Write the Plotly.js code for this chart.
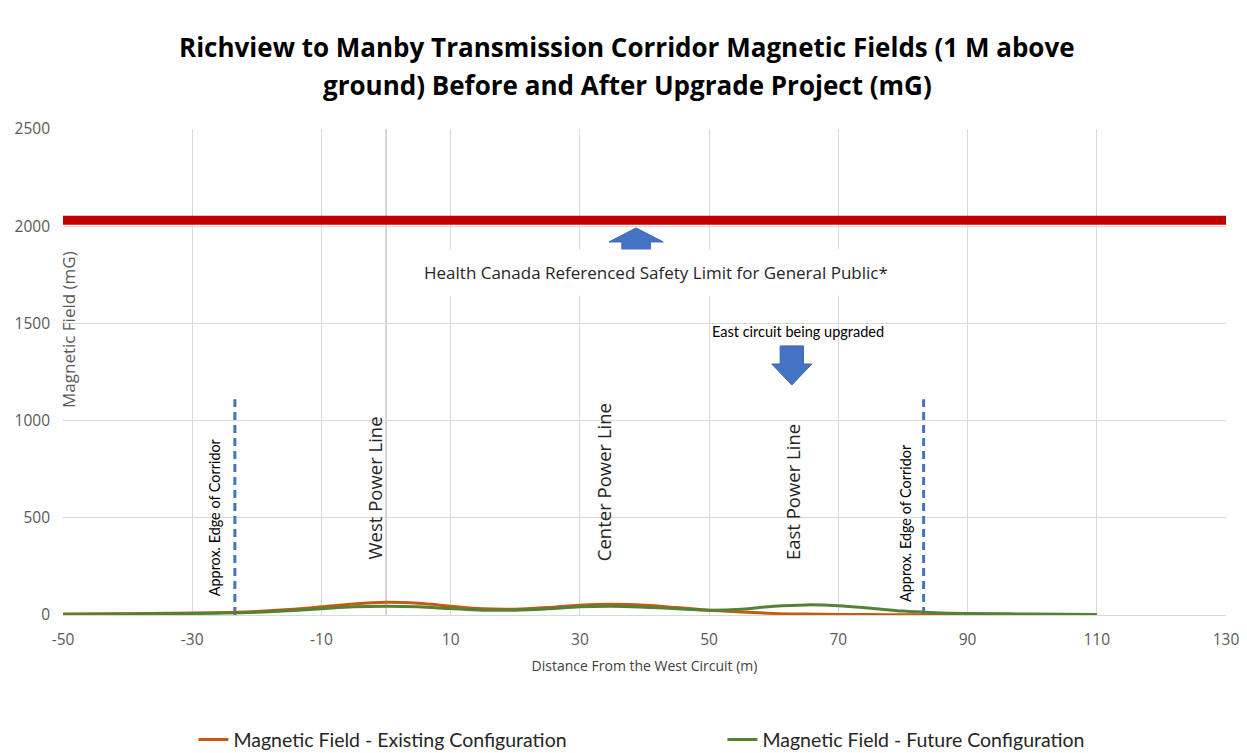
<!DOCTYPE html>
<html>
<head>
<meta charset="utf-8">
<script src="https://cdn.plot.ly/plotly-3.0.1.min.js"></script>
<style>
html,body{margin:0;padding:0;background:#fff;}
#chart{width:1247px;height:753px;}
</style>
</head>
<body>
<div id="chart"></div>
<script>
// Distance from the West Circuit (m)
const distance = [-50, -40, -30, -25, -20, -15, -10, -5, 0, 5, 10, 15, 20, 25, 30, 35, 40, 45, 50, 55, 60, 65, 70, 75, 80, 85, 90, 100, 110];
// Magnetic field (mG), existing configuration
const existingField = [5, 7, 10, 13, 18, 28, 42, 57, 65, 60, 45, 32, 30, 38, 50, 55, 50, 38, 25, 15, 8, 5, 3, 2, 1, 1, 0.5, 0, 0];
// Magnetic field (mG), future configuration
const futureField = [3, 5, 8, 10, 14, 22, 32, 42, 45, 42, 33, 25, 25, 32, 42, 45, 40, 32, 25, 30, 45, 52, 48, 35, 20, 12, 8, 5, 2];

// Health Canada referenced safety limit line
const limitX = [-50, 130];
const limitY = [2030, 2030];

// Approximate edges of the corridor
const edgeX = [-23.4, 83.2];
const edgeTop = 1110;

// Axis ticks
const xTickVals = [-50, -30, -10, 10, 30, 50, 70, 90, 110, 130];
const xTickText = ["-50", "-30", "-10", "10", "30", "50", "70", "90", "110", "130"];
const yTickVals = [0, 500, 1000, 1500, 2000, 2500];

// Power line labels
const lineLabels = ["West Power Line", "Center Power Line", "East Power Line"];
const lineLabelX = [-1.8, 33.6, 63.0];
const lineLabelY = [653, 684, 633];

const titleLines = [
  "Richview to Manby Transmission Corridor Magnetic Fields (1 M above",
  "ground) Before and After Upgrade Project (mG)"
];
const seriesNames = ["Magnetic Field - Existing Configuration", "Magnetic Field - Future Configuration"];

const traces = [
  {
    x: limitX, y: limitY, mode: "lines", showlegend: false, hoverinfo: "skip",
    line: {color: "#C00000", width: 9}
  },
  {
    x: [edgeX[0], edgeX[0]], y: [0, edgeTop], mode: "lines", showlegend: false, hoverinfo: "skip",
    line: {color: "#4472C4", width: 3, dash: "8px,5px"}
  },
  {
    x: [edgeX[1], edgeX[1]], y: [0, edgeTop], mode: "lines", showlegend: false, hoverinfo: "skip",
    line: {color: "#4472C4", width: 3, dash: "8px,5px"}
  },
  {
    x: distance, y: existingField, name: seriesNames[0], mode: "lines",
    line: {color: "#C55A11", width: 3, shape: "spline", smoothing: 1}
  },
  {
    x: distance, y: futureField, name: seriesNames[1], mode: "lines",
    line: {color: "#548235", width: 3, shape: "spline", smoothing: 1}
  }
];

const rotFont = {family: "Open Sans, sans-serif", size: 18.5, color: "#262626"};
const titleFont = {family: "Open Sans, sans-serif", size: 26, color: "#000000"};
const annotations = [
  {
    xref: "paper", yref: "paper", x: 0.485, y: 1.1687, yanchor: "middle", text: "<b>" + titleLines[0] + "</b>",
    showarrow: false, font: titleFont
  },
  {
    xref: "paper", yref: "paper", x: 0.485, y: 1.0905, yanchor: "middle", text: "<b>" + titleLines[1] + "</b>",
    showarrow: false, font: titleFont
  },
  {
    xref: "paper", yref: "y", x: 0.0043, y: 1466, text: "Magnetic Field (mG)", textangle: -90,
    showarrow: false, xanchor: "center", yanchor: "middle",
    font: {family: "Open Sans, sans-serif", size: 17, color: "#595959"}
  },
  {
    xref: "x", yref: "y", x: 41.8, y: 1764, text: "Health Canada Referenced Safety Limit for General Public*",
    showarrow: false, bgcolor: "#ffffff", borderpad: 11,
    font: {family: "Open Sans, sans-serif", size: 17, color: "#262626"}
  },
  {
    xref: "x", yref: "y", x: 63.8, y: 1460, text: "East circuit being upgraded",
    showarrow: false, font: {family: "Lato, sans-serif", size: 14.5, color: "#000000"}
  },
  {
    xref: "x", yref: "y", x: -26.6, y: 504, text: "Approx. Edge of Corridor", textangle: -90,
    showarrow: false, font: {family: "Lato, sans-serif", size: 14.4, color: "#000000"}
  },
  {
    xref: "x", yref: "y", x: 80.3, y: 473, text: "Approx. Edge of Corridor", textangle: -90,
    showarrow: false, font: {family: "Lato, sans-serif", size: 14.4, color: "#000000"}
  }
];
lineLabels.forEach((t, i) => {
  annotations.push({
    xref: "x", yref: "y", x: lineLabelX[i], y: lineLabelY[i], text: t, textangle: -90,
    showarrow: false, font: rotFont
  });
});

const shapes = [
  {type: "line", xref: "x", yref: "y", x0: 0, x1: 0, y0: 0, y1: 2500, line: {color: "#BFBFBF", width: 1.3}, layer: "below"},
  {type: "path", xref: "x", yref: "y",
   path: "M 34.5,1919 L 38.7,1991 L 42.9,1919 L 40.9,1919 L 40.9,1862 L 36.5,1862 L 36.5,1919 Z",
   fillcolor: "#4472C4", line: {color: "#3A64AE", width: 1}},
  {type: "path", xref: "x", yref: "y",
   path: "M 61.0,1384 L 64.6,1384 L 64.6,1291 L 65.9,1291 L 62.8,1183 L 59.7,1291 L 61.0,1291 Z",
   fillcolor: "#4472C4", line: {color: "#3A64AE", width: 1}}
];

const layout = {
  width: 1247, height: 753,
  paper_bgcolor: "#ffffff", plot_bgcolor: "#ffffff",
  margin: {l: 63, r: 21, t: 129, b: 138, autoexpand: false},
  xaxis: {
    range: [-50, 130], tickvals: xTickVals, ticktext: xTickText,
    showgrid: true, gridcolor: "#D9D9D9", gridwidth: 1,
    zeroline: false, showline: true, linecolor: "#D9D9D9", linewidth: 1, ticks: "",
    tickfont: {family: "Open Sans, sans-serif", size: 15.5, color: "#595959"},
    ticklabelstandoff: 10,
    title: {text: "Distance From the West Circuit (m)", standoff: 12,
            font: {family: "Open Sans, sans-serif", size: 14, color: "#404040"}},
    fixedrange: true
  },
  yaxis: {
    range: [0, 2500], tickvals: yTickVals, showgrid: true, gridcolor: "#D9D9D9", gridwidth: 1,
    zeroline: false, showline: false, ticks: "",
    tickfont: {family: "Open Sans, sans-serif", size: 15.5, color: "#595959"},
    ticklabelstandoff: 12,
    fixedrange: true
  },
  showlegend: true,
  legend: {
    orientation: "h", x: 0.567, xanchor: "center", y: -0.257, yanchor: "middle",
    entrywidth: 484, entrywidthmode: "pixels",
    font: {family: "Lato, sans-serif", size: 19.5, color: "#262626"},
    tracegroupgap: 0
  },
  annotations: annotations,
  shapes: shapes,
  hovermode: false
};

Plotly.newPlot("chart", traces, layout, {displayModeBar: false, staticPlot: true});
</script>
</body>
</html>
